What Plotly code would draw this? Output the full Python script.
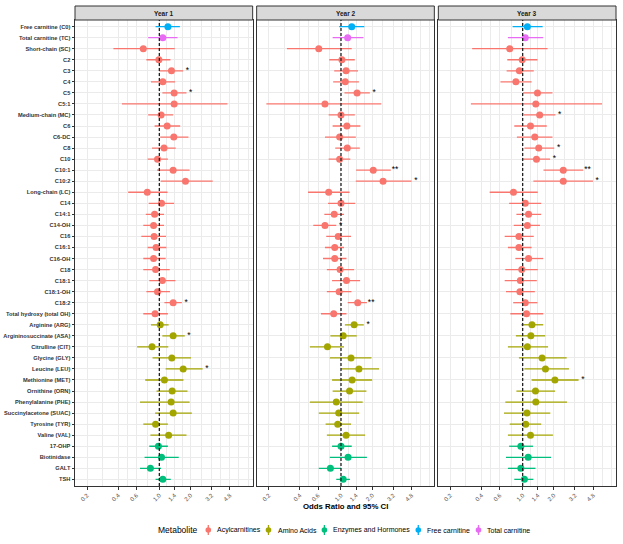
import plotly.graph_objects as go
from plotly.subplots import make_subplots

categories = ["Free carnitine (C0)", "Total carnitine (TC)", "Short-chain (SC)", "C2", "C3", "C4", "C5", "C5:1",
              "Medium-chain (MC)", "C6", "C6-DC", "C8", "C10", "C10:1", "C10:2", "Long-chain (LC)", "C14", "C14:1",
              "C14-OH", "C16", "C16:1", "C16-OH", "C18", "C18:1", "C18:1-OH", "C18:2", "Total hydroxy (total OH)",
              "Arginine (ARG)", "Argininosuccinate (ASA)", "Citrulline (CIT)", "Glycine (GLY)", "Leucine (LEU)",
              "Methionine (MET)", "Ornithine (ORN)", "Phenylalanine (PHE)", "Succinylacetone (SUAC)",
              "Tyrosine (TYR)", "Valine (VAL)", "17-OHP", "Biotinidase", "GALT", "TSH"]

groups = (["Free carnitine", "Total carnitine"] + ["Acylcarnitines"] * 25 + ["Amino Acids"] * 11
          + ["Enzymes and Hormones"] * 4)

years = ["Year 1", "Year 2", "Year 3"]

or1 = [1.21, 1.08, 0.70, 0.99, 1.31, 1.08, 1.39, 1.39, 1.04, 1.19, 1.38, 1.11, 0.96, 1.36, 1.79, 0.765, 1.05, 0.90,
       0.88, 0.89, 0.93, 0.88, 0.92, 1.07, 0.96, 1.36, 0.91, 1.02, 1.36, 0.85, 1.32, 1.70, 1.12, 1.33, 1.30, 1.36,
       0.92, 1.23, 0.98, 1.05, 0.82, 1.08]
lo1 = [0.92, 0.78, 0.36, 0.75, 1.00, 0.83, 1.07, 0.435, 0.78, 0.90, 1.02, 0.85, 0.77, 0.95, 1.03, 0.50, 0.79, 0.74,
       0.70, 0.67, 0.77, 0.70, 0.70, 0.80, 0.75, 1.12, 0.70, 0.83, 1.07, 0.61, 0.86, 1.15, 0.73, 0.94, 0.65, 0.91,
       0.70, 0.82, 0.80, 0.72, 0.65, 0.92]
hi1 = [1.58, 1.50, 1.41, 1.28, 1.70, 1.42, 1.83, 4.55, 1.36, 1.59, 1.91, 1.44, 1.21, 1.96, 3.28, 1.20, 1.39, 1.11,
       1.11, 1.16, 1.17, 1.15, 1.26, 1.43, 1.27, 1.65, 1.21, 1.23, 1.76, 1.22, 2.02, 2.62, 1.71, 1.87, 1.96, 2.06,
       1.21, 1.83, 1.21, 1.54, 1.04, 1.29]

or2 = [1.27, 1.16, 0.61, 1.02, 1.12, 1.10, 1.43, 0.70, 1.00, 1.14, 0.97, 1.15, 0.97, 2.05, 2.55, 0.76, 1.00, 0.86,
       0.70, 0.94, 0.87, 0.87, 0.98, 1.13, 0.96, 1.45, 0.85, 1.34, 1.05, 0.74, 1.25, 1.49, 1.28, 1.21, 0.90, 0.95,
       0.93, 1.12, 1.00, 1.17, 0.79, 1.05]
lo2 = [0.96, 0.83, 0.30, 0.77, 0.86, 0.84, 1.08, 0.19, 0.76, 0.83, 0.70, 0.88, 0.76, 1.40, 1.39, 0.48, 0.75, 0.69,
       0.54, 0.72, 0.70, 0.67, 0.73, 0.82, 0.73, 1.16, 0.64, 1.09, 0.79, 0.50, 0.78, 1.00, 0.82, 0.83, 0.50, 0.61,
       0.71, 0.73, 0.82, 0.78, 0.61, 0.90]
hi2 = [1.68, 1.65, 1.27, 1.36, 1.46, 1.49, 1.90, 2.45, 1.36, 1.54, 1.39, 1.52, 1.23, 3.03, 4.81, 1.21, 1.37, 1.07,
       0.90, 1.25, 1.07, 1.13, 1.34, 1.53, 1.26, 1.78, 1.13, 1.66, 1.42, 1.07, 1.97, 2.33, 2.00, 1.76, 1.62, 1.50,
       1.25, 1.71, 1.27, 1.78, 1.00, 1.22]

or3 = [1.11, 1.06, 0.75, 0.99, 0.93, 0.86, 1.39, 1.34, 1.46, 1.19, 1.31, 1.43, 1.36, 2.47, 2.47, 0.815, 1.06, 1.14,
       1.11, 0.92, 0.92, 1.14, 0.98, 0.95, 0.94, 1.06, 1.09, 1.23, 1.20, 1.11, 1.54, 1.66, 2.05, 1.33, 1.34, 1.10,
       1.07, 1.19, 0.96, 1.13, 0.96, 1.04]
lo3 = [0.80, 0.72, 0.325, 0.71, 0.70, 0.61, 1.01, 0.316, 1.03, 0.83, 0.88, 1.04, 1.00, 1.59, 1.27, 0.48, 0.74, 0.87,
       0.82, 0.67, 0.72, 0.85, 0.68, 0.67, 0.69, 0.81, 0.76, 0.97, 0.86, 0.72, 0.92, 1.04, 1.22, 0.87, 0.68, 0.66,
       0.75, 0.72, 0.74, 0.69, 0.72, 0.83]
hi3 = [1.56, 1.58, 1.74, 1.39, 1.28, 1.22, 1.94, 5.85, 2.07, 1.71, 1.94, 2.02, 1.84, 3.85, 4.78, 1.40, 1.51, 1.51,
       1.47, 1.28, 1.22, 1.58, 1.40, 1.37, 1.31, 1.39, 1.58, 1.58, 1.65, 1.76, 2.66, 2.80, 3.47, 2.06, 2.68, 1.85,
       1.51, 1.96, 1.26, 1.88, 1.33, 1.27]

# significance labels: {row index: label}
sig1 = {4: "*", 6: "*", 25: "*", 28: "*", 31: "*"}
sig2 = {6: "*", 13: "**", 14: "*", 18: "*", 25: "**", 27: "*"}
sig3 = {8: "*", 11: "*", 12: "*", 13: "**", 14: "*", 32: "*"}

group_order = ["Acylcarnitines", "Amino Acids", "Enzymes and Hormones", "Free carnitine", "Total carnitine"]
group_colors = {"Acylcarnitines": "#F8766D", "Amino Acids": "#A3A500", "Enzymes and Hormones": "#00BF7D",
                "Free carnitine": "#00B0F6", "Total carnitine": "#E76BF3"}

tick_vals = [0.2, 0.4, 0.6, 1.0, 1.4, 2.0, 3.2, 4.8]
tick_text = ["0.2", "0.4", "0.6", "1.0", "1.4", "2.0", "3.2", "4.8"]

FONT = "Liberation Sans, Arial, sans-serif"
W, H = 623, 544
ML, MR, MT, MB = 75, 7, 20, 58
plot_w = W - ML - MR
plot_h = H - MT - MB


def px_x(p):  # page pixel -> paper x
    return (p - ML) / plot_w


def px_y(p):  # page pixel -> paper y
    return (H - MB - p) / plot_h


fig = make_subplots(rows=1, cols=3, shared_yaxes=True, horizontal_spacing=0.0074)

data = [(or1, lo1, hi1, sig1), (or2, lo2, hi2, sig2), (or3, lo3, hi3, sig3)]
for c, (orv, lov, hiv, sig) in enumerate(data, start=1):
    for g in group_order:
        idx = [i for i, gg in enumerate(groups) if gg == g]
        fig.add_trace(go.Scatter(
            x=[orv[i] for i in idx],
            y=[categories[i] for i in idx],
            mode="markers",
            name=g,
            showlegend=False,
            marker=dict(color=group_colors[g], size=7, line=dict(width=0)),
            error_x=dict(type="data", symmetric=False,
                         array=[hiv[i] - orv[i] for i in idx],
                         arrayminus=[orv[i] - lov[i] for i in idx],
                         color=group_colors[g], thickness=1.3, width=0),
        ), row=1, col=c)
    sidx = sorted(sig.keys())
    fig.add_trace(go.Scatter(
        x=[hiv[i] * 1.1 for i in sidx],
        y=[categories[i] for i in sidx],
        text=[sig[i] for i in sidx],
        mode="text",
        textposition="middle center",
        textfont=dict(family=FONT, size=8.5, color="black"),
        showlegend=False, hoverinfo="skip",
    ), row=1, col=c)

domains = [[0.0, 0.3284], [0.3358, 0.6642], [0.6716, 1.0]]
for c in range(1, 4):
    xa = "xaxis" if c == 1 else f"xaxis{c}"
    fig.layout[xa].update(
        type="log", range=[-0.815, 0.902], domain=domains[c - 1],
        tickvals=tick_vals, ticktext=tick_text, tickangle=-45,
        tickfont=dict(family=FONT, size=6, color="#4D4D4D"),
        ticks="outside", ticklen=2.5, tickcolor="#333333", tickwidth=0.7,
        showgrid=True, gridcolor="#EBEBEB", gridwidth=0.9,
        minor=dict(tickvals=[0.283, 0.49, 0.775, 1.183, 1.673, 2.53, 3.92, 5.88, 7.2],
                   showgrid=True, gridcolor="#EBEBEB", gridwidth=0.5, ticks=""),
        showline=True, mirror=True, linecolor="#333333", linewidth=1,
        zeroline=False, automargin=False, fixedrange=True,
    )
    ya = "yaxis" if c == 1 else f"yaxis{c}"
    fig.layout[ya].update(
        type="category", categoryorder="array", categoryarray=categories,
        range=[len(categories) - 0.4, -0.6],
        showgrid=True, gridcolor="#EBEBEB", gridwidth=0.9,
        showline=True, mirror=True, linecolor="#333333", linewidth=1,
        ticks="outside" if c == 1 else "", ticklen=2.5, tickcolor="#333333", tickwidth=0.7,
        showticklabels=(c == 1),
        tickfont=dict(family=FONT, size=5.7, color="#333333", weight="bold"),
        automargin=False, fixedrange=True,
    )
    xref = "x" if c == 1 else f"x{c}"
    # reference line at OR = 1
    fig.add_shape(type="line", xref=xref, x0=1, x1=1, yref=("y" if c == 1 else f"y{c}") + " domain",
                  y0=0, y1=1, line=dict(color="#222222", width=1.3, dash="3px,2px"), layer="above")
    # facet strip
    fig.add_shape(type="rect", xref=xref + " domain", x0=0, x1=1, yref="paper",
                  y0=1.0, y1=1 + 14 / plot_h, fillcolor="#D9D9D9",
                  line=dict(color="#333333", width=1), layer="above")
    fig.add_annotation(xref=xref + " domain", x=0.5, yref="paper", y=1 + 7 / plot_h,
                       text="<b>" + years[c - 1] + "</b>", showarrow=False,
                       font=dict(family=FONT, size=6.5, color="#1A1A1A"),
                       xanchor="center", yanchor="middle")

fig.add_annotation(xref="paper", x=px_x(345.5), yref="paper", y=px_y(507),
                   text="<b>Odds Ratio and 95% CI</b>", showarrow=False,
                   font=dict(family=FONT, size=7.8, color="black"),
                   xanchor="center", yanchor="middle")

# manual legend (key = point with vertical range line, like the original)
leg_y = px_y(530)
fig.add_annotation(xref="paper", x=px_x(156), yref="paper", y=leg_y, text="Metabolite",
                   showarrow=False, xanchor="left", yanchor="middle",
                   font=dict(family=FONT, size=8.5, color="black"))
key_x = [208.3, 268.5, 324.4, 418.3, 478.5]
for g, kx in zip(group_order, key_x):
    fig.add_shape(type="line", xref="paper", yref="paper", xsizemode="pixel", ysizemode="pixel",
                  xanchor=px_x(kx), yanchor=leg_y, x0=0, x1=0, y0=-5, y1=5,
                  line=dict(color=group_colors[g], width=1.3))
    fig.add_shape(type="circle", xref="paper", yref="paper", xsizemode="pixel", ysizemode="pixel",
                  xanchor=px_x(kx), yanchor=leg_y, x0=-2.8, x1=2.8, y0=-2.8, y1=2.8,
                  fillcolor=group_colors[g], line=dict(width=0))
    fig.add_annotation(xref="paper", x=px_x(kx + 7), yref="paper", y=leg_y, text=g,
                       showarrow=False, xanchor="left", yanchor="middle",
                       font=dict(family=FONT, size=7, color="black"))

fig.update_layout(
    width=W, height=H,
    margin=dict(l=ML, r=MR, t=MT, b=MB, autoexpand=False),
    paper_bgcolor="white", plot_bgcolor="white",
    font=dict(family=FONT),
    showlegend=False,
)

fig.write_html("out.html", config={"displayModeBar": False},
               post_script="document.body.style.margin='0';document.body.style.overflow='hidden';")
